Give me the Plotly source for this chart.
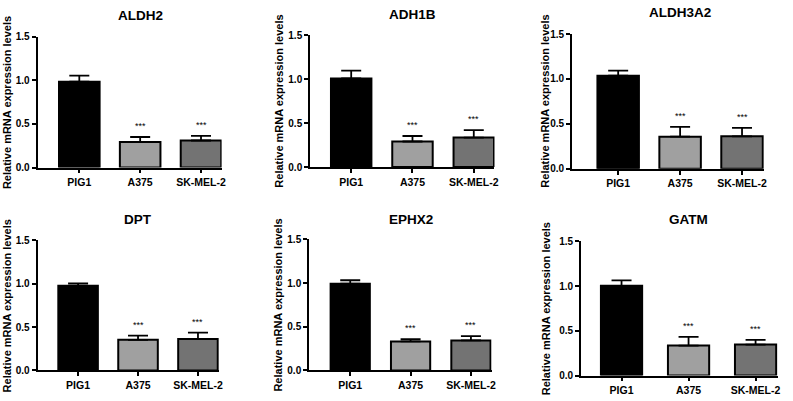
import plotly.graph_objects as go

W, H = 793, 401

categories = ["PIG1", "A375", "SK-MEL-2"]
genes = ["ALDH2", "ADH1B", "ALDH3A2", "DPT", "EPHX2", "GATM"]

aldh2 = [0.985, 0.294, 0.31]
aldh2_err = [0.07, 0.056, 0.054]
adh1b = [1.007, 0.29, 0.335]
adh1b_err = [0.089, 0.063, 0.085]
aldh3a2 = [1.036, 0.357, 0.361]
aldh3a2_err = [0.058, 0.109, 0.094]
dpt = [0.978, 0.354, 0.362]
dpt_err = [0.026, 0.049, 0.075]
ephx2 = [0.993, 0.333, 0.344]
ephx2_err = [0.04, 0.026, 0.049]
gatm = [1.004, 0.336, 0.347]
gatm_err = [0.061, 0.097, 0.053]

significance = ["", "***", "***"]
y_ticks = [0.0, 0.5, 1.0, 1.5]
y_title = "Relative mRNA expression levels"

values = [aldh2, adh1b, aldh3a2, dpt, ephx2, gatm]
errors = [aldh2_err, adh1b_err, aldh3a2_err, dpt_err, ephx2_err, gatm_err]

# layout (pixel) per panel: x-axis left/right, y top/bottom, x range, bar width, title y, ytitle x
panels = [
    dict(xl=37.7, xr=222.7, yt=31.7, yb=166.5, rng=[-0.687, 2.338], bw=0.667, ty=9.5, tx=7.0),
    dict(xl=311.7, xr=497.0, yt=30.0, yb=166.0, rng=[-0.670, 2.338], bw=0.660, ty=8.5, tx=280.0),
    dict(xl=575.0, xr=767.7, yt=29.0, yb=167.7, rng=[-0.744, 2.352], bw=0.670, ty=7.0, tx=548.0),
    dict(xl=37.7, xr=220.0, yt=241.7, yb=375.7, rng=[-0.677, 2.349], bw=0.660, ty=220.0, tx=7.0),
    dict(xl=310.7, xr=494.0, yt=240.7, yb=375.7, rng=[-0.681, 2.341], bw=0.650, ty=220.0, tx=279.0),
    dict(xl=584.0, xr=781.7, yt=242.7, yb=381.0, rng=[-0.604, 2.331], bw=0.615, ty=220.5, tx=548.5),
]

bar_colors = ["#000000", "#a0a0a0", "#737373"]
FONT = "Arial, Liberation Sans, sans-serif"

fig = go.Figure()
annotations = []
layout = {}

for i, (gene, vals, errs, p) in enumerate(zip(genes, values, errors, panels)):
    n = "" if i == 0 else str(i + 1)
    xa, ya = "x" + n, "y" + n
    fig.add_trace(go.Bar(
        x=list(range(len(categories))), y=vals,
        width=p["bw"],
        marker=dict(color=bar_colors, line=dict(color="black", width=2)),
        error_y=dict(type="data", array=errs, arrayminus=[0] * len(errs),
                     symmetric=False, color="black", thickness=1.8, width=10),
        xaxis=xa, yaxis=ya, showlegend=False, hoverinfo="skip",
    ))
    layout["xaxis" + n] = dict(
        domain=[p["xl"] / W, p["xr"] / W], anchor=ya, range=p["rng"],
        tickmode="array", tickvals=list(range(len(categories))), ticktext=categories,
        showline=True, linecolor="black", linewidth=1.8, ticks="outside",
        ticklen=4, tickwidth=1.5, tickcolor="black", showgrid=False, zeroline=False,
        tickfont=dict(family=FONT, size=10.5, color="black", weight="bold"),
        fixedrange=True,
    )
    layout["yaxis" + n] = dict(
        domain=[1 - p["yb"] / H, 1 - p["yt"] / H], anchor=xa, range=[0, 1.5],
        tickmode="array", tickvals=y_ticks, tickformat=".1f",
        showline=True, linecolor="black", linewidth=1.8, ticks="outside",
        ticklen=4, tickwidth=1.5, tickcolor="black", showgrid=False, zeroline=False,
        tickfont=dict(family=FONT, size=10, color="black", weight="bold"),
        fixedrange=True,
    )
    # panel title
    annotations.append(dict(
        text=gene, xref=xa, x=1, yref="paper", y=1 - p["ty"] / H,
        showarrow=False, yanchor="middle", xanchor="center",
        font=dict(family=FONT, size=13.5, color="black", weight="bold"),
    ))
    # y-axis title
    annotations.append(dict(
        text=y_title, xref="paper", x=p["tx"] / W, yref="paper",
        y=1 - (p["yt"] + p["yb"]) / 2 / H, textangle=-90, showarrow=False,
        xanchor="center", yanchor="middle",
        font=dict(family=FONT, size=11, color="black", weight="bold"),
    ))
    # significance marks
    for j, s in enumerate(significance):
        if s:
            annotations.append(dict(
                text=s, xref=xa, x=j, yref=ya, y=vals[j] + errs[j],
                showarrow=False, yanchor="bottom", yshift=4,
                font=dict(family=FONT, size=9, color="black"),
            ))

fig.update_layout(
    width=W, height=H, margin=dict(l=0, r=0, t=0, b=0),
    paper_bgcolor="white", plot_bgcolor="white",
    annotations=annotations, **layout,
)

fig.write_html(
    "out.html",
    config={"displayModeBar": False},
    post_script="document.body.style.margin='0';document.body.style.padding='0';",
)
